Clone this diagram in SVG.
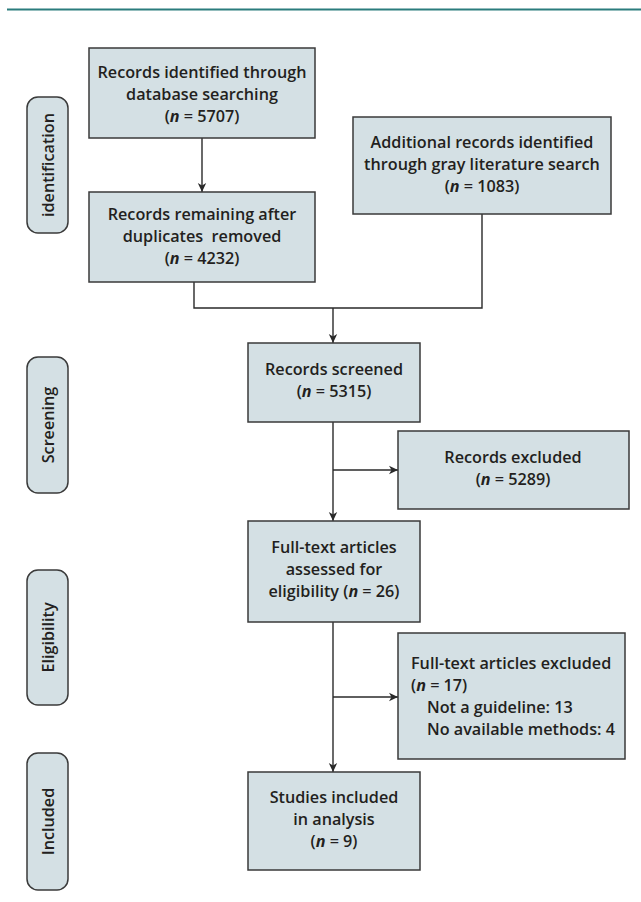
<svg xmlns="http://www.w3.org/2000/svg" width="641" height="902" viewBox="0 0 641 902">
<style>
.box{fill:#d4e0e4;stroke:#3a3a3a;stroke-width:1.5}
.pill{fill:#d4e0e4;stroke:#3a3a3a;stroke-width:1.5}
.t{font-family:"Open Sans","Liberation Sans",sans-serif;font-weight:600;font-size:16.2px;fill:#231f20}
.c{text-anchor:middle}
.i{font-style:italic;font-weight:700}
.ln{fill:none;stroke:#2a2a2a;stroke-width:1.4}
</style>
<defs>
<marker id="ah" markerWidth="10" markerHeight="10" refX="9" refY="5" orient="auto" markerUnits="userSpaceOnUse">
<path d="M0,0.8 L9,5 L0,9.2 L2.5,5 z" fill="#2a2a2a"/>
</marker>
</defs>
<line x1="7" y1="9.5" x2="641" y2="9.5" stroke="#2b7c7d" stroke-width="2"/>

<g id="stage-identification"><rect class="pill" x="27" y="97" width="41" height="136" rx="11"/><text class="t c" transform="translate(54,165) rotate(-90)">identification</text></g>
<g id="stage-screening"><rect class="pill" x="27" y="357" width="41" height="136" rx="11"/><text class="t c" transform="translate(54,425) rotate(-90)">Screening</text></g>
<g id="stage-eligibility"><rect class="pill" x="27" y="570" width="41" height="135" rx="11"/><text class="t c" transform="translate(54,637.5) rotate(-90)">Eligibility</text></g>
<g id="stage-included"><rect class="pill" x="27" y="753" width="41" height="137" rx="11"/><text class="t c" transform="translate(54,821.5) rotate(-90)">Included</text></g>

<g id="connectors">
<line class="ln" x1="202" y1="138" x2="202" y2="192" marker-end="url(#ah)"/>
<polyline class="ln" points="194,282 194,308 482,308 482,214"/>
<line class="ln" x1="333" y1="308" x2="333" y2="343" marker-end="url(#ah)"/>
<line class="ln" x1="333" y1="422" x2="333" y2="521" marker-end="url(#ah)"/>
<line class="ln" x1="333" y1="470" x2="398" y2="470" marker-end="url(#ah)"/>
<line class="ln" x1="333" y1="622" x2="333" y2="772" marker-end="url(#ah)"/>
<line class="ln" x1="333" y1="697" x2="398" y2="697" marker-end="url(#ah)"/>
</g>

<g id="db-records"><rect class="box" x="89" y="48" width="226" height="90"/>
<text class="t c" x="202" y="78">Records identified through</text>
<text class="t c" x="202" y="100">database searching</text>
<text class="t c" x="202" y="122">(<tspan class="i">n</tspan> = 5707)</text></g>

<g id="after-duplicates"><rect class="box" x="89" y="192" width="226" height="90"/>
<text class="t c" x="202" y="220">Records remaining after</text>
<text class="t c" x="202" y="242" xml:space="preserve">duplicates  removed</text>
<text class="t c" x="202" y="264">(<tspan class="i">n</tspan> = 4232)</text></g>

<g id="gray-literature"><rect class="box" x="353" y="117" width="258" height="97"/>
<text class="t c" x="482" y="148">Additional records identified</text>
<text class="t c" x="482" y="170">through gray literature search</text>
<text class="t c" x="482" y="192">(<tspan class="i">n</tspan> = 1083)</text></g>

<g id="screened"><rect class="box" x="248" y="343" width="172" height="79"/>
<text class="t c" x="334" y="375">Records screened</text>
<text class="t c" x="334" y="397">(<tspan class="i">n</tspan> = 5315)</text></g>

<g id="excluded"><rect class="box" x="398" y="431" width="231" height="78"/>
<text class="t c" x="513" y="463">Records excluded</text>
<text class="t c" x="513" y="485">(<tspan class="i">n</tspan> = 5289)</text></g>

<g id="full-text"><rect class="box" x="248" y="521" width="172" height="101"/>
<text class="t c" x="334" y="553">Full-text articles</text>
<text class="t c" x="334" y="575">assessed for</text>
<text class="t c" x="334" y="597">eligibility (<tspan class="i">n</tspan> = 26)</text></g>

<g id="full-text-excluded"><rect class="box" x="398" y="633" width="227" height="126"/>
<text class="t" x="411" y="669">Full-text articles excluded</text>
<text class="t" x="411" y="691">(<tspan class="i">n</tspan> = 17)</text>
<text class="t" x="427" y="713">Not a guideline: 13</text>
<text class="t" x="427" y="735">No available methods: 4</text></g>

<g id="included"><rect class="box" x="248" y="772" width="172" height="98"/>
<text class="t c" x="334" y="803">Studies included</text>
<text class="t c" x="334" y="825">in analysis</text>
<text class="t c" x="334" y="847">(<tspan class="i">n</tspan> = 9)</text></g>
</svg>
